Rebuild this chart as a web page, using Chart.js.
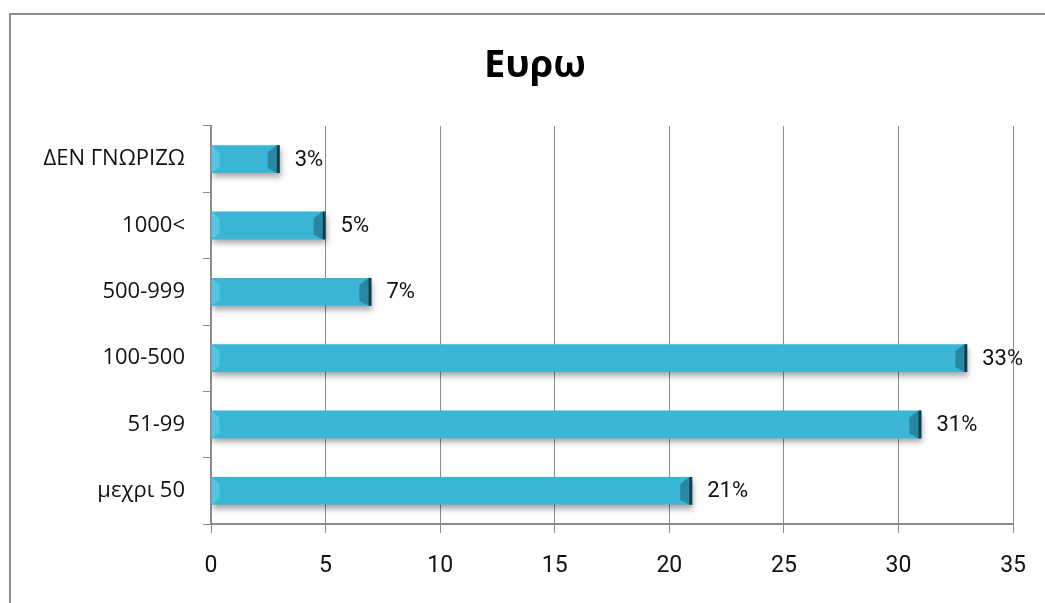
<!DOCTYPE html>
<html>
<head>
<meta charset="utf-8">
<script src="https://cdn.jsdelivr.net/npm/chart.js@4/dist/chart.umd.min.js"></script>
<style>
  html, body { margin: 0; padding: 0; background: #fff; }
  #wrap { width: 1045px; height: 603px; position: relative; }
</style>
</head>
<body>
<div id="wrap"><canvas id="c" width="1045" height="603"></canvas></div>
<script>
// categories top to bottom, as in the picture
var categories = ['ΔΕΝ ΓΝΩΡΙΖΩ', '1000<', '500-999', '100-500', '51-99', 'μεχρι 50'];
var values = [3, 5, 7, 33, 31, 21];
var valueLabels = ['3%', '5%', '7%', '33%', '31%', '21%'];
var xTicks = [0, 5, 10, 15, 20, 25, 30, 35];

var TEXT = '#111';
var GRID = '#8c8c8c';

function barFill(context) {
  var chart = context.chart;
  var el = context.element;
  if (!el || el.y == null || isNaN(el.y)) return '#3bb5d5';
  var h = el.height || 28;
  var g = chart.ctx.createLinearGradient(0, el.y - h / 2, 0, el.y + h / 2);
  g.addColorStop(0, '#8ae4f4');
  g.addColorStop(0.15, '#55cce7');
  g.addColorStop(0.5, '#3ab2d2');
  g.addColorStop(1, '#247d9b');
  return g;
}

// frame, title, bar bevel and value labels
var decor = {
  id: 'decor',
  beforeDraw: function (chart) {
    var ctx = chart.ctx;
    ctx.save();
    ctx.strokeStyle = '#8c8c8c';
    ctx.lineWidth = 2;
    ctx.beginPath();
    ctx.moveTo(10, 603);
    ctx.lineTo(10, 14);
    ctx.lineTo(1045, 14);
    ctx.stroke();
    ctx.fillStyle = '#000';
    ctx.font = 'bold 38px "Open Sans"';
    ctx.textAlign = 'center';
    ctx.textBaseline = 'middle';
    ctx.fillText('Ευρω', 535, 66);
    ctx.restore();
  },
  beforeDatasetDraw: function (chart) {
    var ctx = chart.ctx;
    ctx.save();
    ctx.shadowColor = 'rgba(0,0,0,0.35)';
    ctx.shadowBlur = 6;
    ctx.shadowOffsetY = 4;
    ctx.shadowOffsetX = 1;
  },
  afterDatasetDraw: function (chart) {
    var ctx = chart.ctx;
    ctx.restore();
    var meta = chart.getDatasetMeta(0);
    ctx.save();
    meta.data.forEach(function (bar, i) {
      var top = bar.y - bar.height / 2;
      var bot = bar.y + bar.height / 2;
      var left = bar.base;
      var right = bar.x;
      // dark right edge
      ctx.fillStyle = '#103e4c';
      ctx.fillRect(right - 3, top, 3, bar.height);
      ctx.fillStyle = 'rgba(20,80,100,0.45)';
      ctx.beginPath();
      ctx.moveTo(right - 3, top);
      ctx.lineTo(right - 12, top + 7);
      ctx.lineTo(right - 12, bot - 5);
      ctx.lineTo(right - 3, bot);
      ctx.closePath();
      ctx.fill();
      // light bevel at the left end
      ctx.fillStyle = 'rgba(120,220,240,0.45)';
      ctx.beginPath();
      ctx.moveTo(left, top);
      ctx.lineTo(left + 8, top + 7);
      ctx.lineTo(left + 8, bot - 6);
      ctx.lineTo(left, bot);
      ctx.closePath();
      ctx.fill();
      // labels
      ctx.fillStyle = TEXT;
      ctx.font = '22px Roboto';
      ctx.textAlign = 'left';
      ctx.textBaseline = 'middle';
      ctx.fillText(valueLabels[i], right + 15, bar.y + 1);
    });
    ctx.restore();
  }
};

new Chart(document.getElementById('c'), {
  type: 'bar',
  data: {
    labels: categories,
    datasets: [{
      data: values,
      backgroundColor: barFill,
      borderWidth: 0,
      barPercentage: 0.42,
      categoryPercentage: 1
    }]
  },
  options: {
    indexAxis: 'y',
    responsive: false,
    animation: false,
    layout: { padding: { top: 126, right: 28, left: 0, bottom: 0 } },
    plugins: { legend: { display: false }, tooltip: { enabled: false } },
    scales: {
      x: {
        min: 0,
        max: 35,
        afterBuildTicks: function (axis) {
          axis.ticks = xTicks.map(function (v) { return { value: v }; });
        },
        afterFit: function (axis) { axis.height = 79; },
        border: { display: true, color: GRID, width: 2 },
        grid: { color: GRID, lineWidth: 1, tickLength: 9, drawTicks: true },
        ticks: { color: TEXT, font: { family: 'Roboto', size: 23 }, padding: 19 }
      },
      y: {
        afterFit: function (axis) { axis.width = 211; },
        border: { display: true, color: GRID, width: 2 },
        grid: { drawOnChartArea: false, color: GRID, tickLength: 8, offset: true },
        ticks: { color: TEXT, font: { family: 'Open Sans', size: 22 }, padding: 18 }
      }
    }
  },
  plugins: [decor]
});
</script>
</body>
</html>
